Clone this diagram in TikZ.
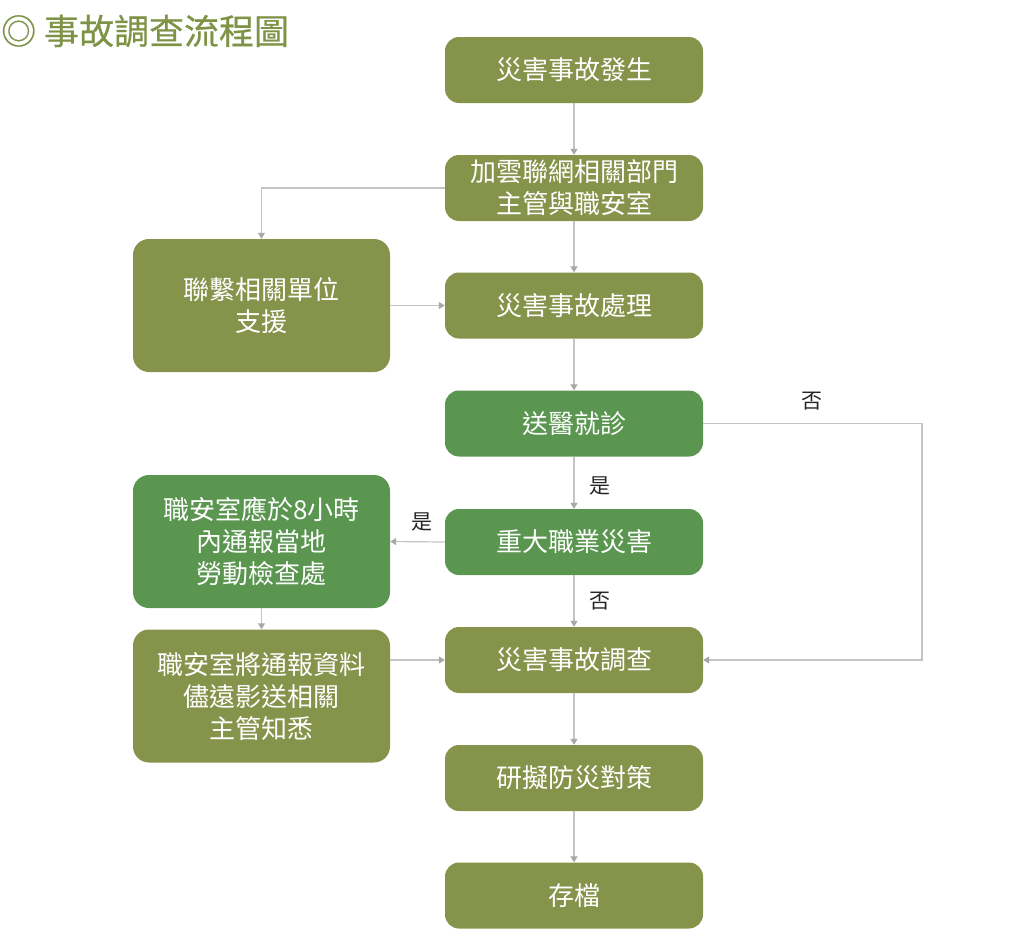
\documentclass[tikz,border=0pt]{standalone}
\usepackage{fontspec}
\setmainfont{Noto Sans CJK TC}
\newfontfamily\titlefont[FakeBold=0.6]{Noto Sans CJK TC}
\usetikzlibrary{arrows.meta}
\definecolor{olive}{HTML}{85934B}
\definecolor{dgreen}{HTML}{5A9650}
\definecolor{titlec}{HTML}{7F9347}
\definecolor{linec}{HTML}{C4C4C4}
\definecolor{tipc}{HTML}{A8A8A8}
\begin{document}
\begin{tikzpicture}[x=1pt,y=-1pt,
  boxbase/.style={rectangle, rounded corners=14pt, text=white, align=center,
     font=\fontsize{26}{32}\selectfont, inner sep=0pt, draw=none},
  mainbox/.style={boxbase, fill=olive, minimum width=258pt, minimum height=66pt},
  mainboxg/.style={boxbase, fill=dgreen, minimum width=258pt, minimum height=66pt},
  sidebox/.style={boxbase, fill=olive, minimum width=257pt, minimum height=133pt, rounded corners=16pt},
  sideboxg/.style={boxbase, fill=dgreen, minimum width=257pt, minimum height=133pt, rounded corners=16pt},
  conn/.style={draw=linec, line width=1.2pt, -{Triangle[length=6pt,width=7pt,fill=tipc,color=tipc]}},
  lbl/.style={text=black!85, font=\fontsize{21}{24}\selectfont, inner sep=0pt}
]
\useasboundingbox (0,0) rectangle (1024,948);
\node[anchor=west, text=titlec, font=\titlefont\fontsize{35}{38}\selectfont, inner sep=0pt] (title) at (1,31) {◎ 事故調查流程圖};

\node[mainbox]  (b1) at (574,70)    {災害事故發生};
\node[mainbox]  (b2) at (574,188)   {加雲聯網相關部門\\主管與職安室};
\node[mainbox]  (b3) at (574,305.5) {災害事故處理};
\node[mainboxg] (b4) at (574,423.5) {送醫就診};
\node[mainboxg] (b5) at (574,542)   {重大職業災害};
\node[mainbox]  (b6) at (574,660)   {災害事故調查};
\node[mainbox]  (b7) at (574,778)   {研擬防災對策};
\node[mainbox]  (b8) at (574,895.5) {存檔};

\node[sidebox]  (l1) at (261.5,305.5) {聯繫相關單位\\支援};
\node[sideboxg] (l2) at (261.5,541.5) {職安室應於8小時\\內通報當地\\勞動檢查處};
\node[sidebox]  (l3) at (261.5,696)   {職安室將通報資料\\儘遠影送相關\\主管知悉};

\coordinate (r1) at (922,423.5);

\draw[conn] (b1) -- (b2);
\draw[conn] (b2.west) -| (l1.north);
\draw[conn] (b2) -- (b3);
\draw[conn] (l1.east) -- (b3.west);
\draw[conn] (b3) -- (b4);
\draw[conn] (b4.east) -- (r1) |- (b6.east);
\draw[conn] (b4) -- (b5);
\draw[conn] (b5.west) -- (l2.east);
\draw[conn] (b5) -- (b6);
\draw[conn] (l2) -- (l3);
\draw[conn] (l3.east |- b6.west) -- (b6.west);
\draw[conn] (b6) -- (b7);
\draw[conn] (b7) -- (b8);

\node[lbl] (n1) at (812,401) {否};
\node[lbl] (y1) at (600,486) {是};
\node[lbl] (y2) at (422,522) {是};
\node[lbl] (n2) at (600,601) {否};
\end{tikzpicture}
\end{document}
